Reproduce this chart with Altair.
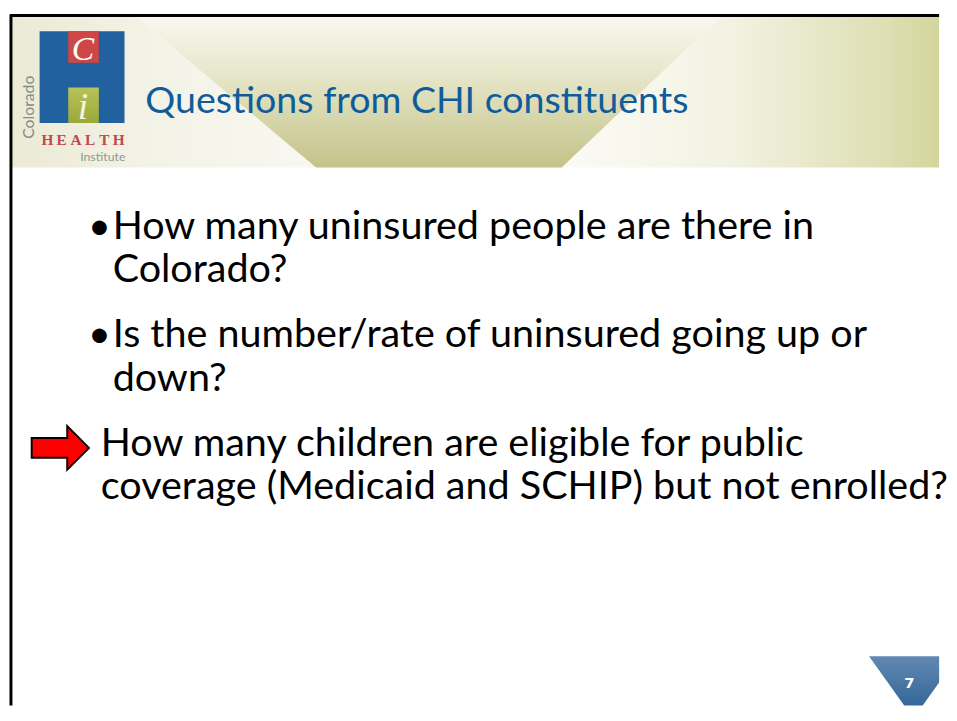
import altair as alt
import pandas as pd

# ---------------- content ----------------
title_text = "Questions from CHI constituents"
bullet_lines = [
    "How many uninsured people are there in",
    "Colorado?",
    "Is the number/rate of uninsured going up or",
    "down?",
    "How many children are eligible for public",
    "coverage (Medicaid and SCHIP) but not enrolled?",
]
line_item = [0, 0, 1, 1, 2, 2]
line_sub = [0, 1, 0, 1, 0, 1]
item_marker = ["bullet", "bullet", "arrow"]
page_number = "7"
logo_letters = ["C", "i"]
logo_word = "HEALTH"
logo_sub = "Institute"
logo_side = "Colorado"

# ---------------- layout (page pixels) ----------------
X0, Y0, W, H = 8, 8, 941, 700
FONT = "Lato"
BODY_SIZE = 40
TITLE_SIZE = 38
FIRST_BASE, ITEM_GAP, LINE_GAP = 235, 110, 44
TEXT_X = {"bullet": 112, "arrow": 100}
BULLET_X = 87

xs = alt.Scale(domain=[X0, X0 + W], nice=False, zero=False)
ys = alt.Scale(domain=[Y0, Y0 + H], nice=False, zero=False, reverse=True)


def X(f="x"):
    return alt.X(f"{f}:Q", scale=xs, axis=None)


def Y(f="y"):
    return alt.Y(f"{f}:Q", scale=ys, axis=None)


def grad(stops, horizontal=False):
    return alt.LinearGradient(
        gradient="linear",
        stops=[alt.GradientStop(offset=o, color=c) for o, c in stops],
        x1=0, y1=0, x2=1 if horizontal else 0, y2=0 if horizontal else 1,
    )


def area(xv, yv, y2v, fill, **kw):
    df = pd.DataFrame({"x": xv, "y": yv, "y2": y2v})
    return alt.Chart(df).mark_area(orient="vertical", color=fill, clip=True, **kw).encode(
        x=X(), y=Y(), y2=alt.Y2("y2:Q"))


def rect(x, x2, y, y2, fill):
    df = pd.DataFrame({"x": [x], "x2": [x2], "y": [y], "y2": [y2]})
    return alt.Chart(df).mark_rect(color=fill).encode(
        x=X(), x2=alt.X2("x2:Q"), y=Y(), y2=alt.Y2("y2:Q"))


def text(xv, yv, tv, **kw):
    df = pd.DataFrame({"x": xv, "y": yv, "t": tv})
    return alt.Chart(df).mark_text(**kw).encode(x=X(), y=Y(), text="t:N")


layers = []

# header background
HB = 163
RIGHT = X0 + W
layers.append(area([X0, 133, 318], [Y0, Y0, HB], [HB, HB, HB],
                   grad([(0, "#ebead5"), (0.5, "#f4f3e8"), (1, "#f8f8f1")], True)))
layers.append(area([133, 318, 567, 730], [Y0] * 4, [Y0, HB, HB, Y0],
                   grad([(0, "#f8f8f0"), (0.35, "#e9e9cf"), (1, "#c4c389")])))
layers.append(area([567, 730, RIGHT], [HB, Y0, Y0], [HB, HB, HB],
                   grad([(0, "#fbfbf6"), (0.45, "#f2f2e2"), (0.85, "#dedfb4"), (1, "#d3d69b")], True)))

# logo
layers.append(rect(38, 124, 25, 118, "#22619f"))
layers.append(rect(67, 98, 25, 57, "#cf4744"))
layers.append(rect(67, 98, 82, 118, grad([(0, "#b8c25a"), (1, "#98a93a")])))
layers.append(text([82], [54], [logo_letters[0]], font="Liberation Serif", fontSize=34,
                   fontStyle="italic", color="white", align="center", baseline="alphabetic"))
layers.append(text([82], [114], [logo_letters[1]], font="Liberation Serif", fontSize=38,
                   fontStyle="italic", color="#f4f4e0", align="center", baseline="alphabetic"))
layers.append(text([46 + 14.4 * k for k in range(len(logo_word))], [140] * len(logo_word),
                   list(logo_word), font="Liberation Serif", fontSize=15.5, fontWeight="bold",
                   color="#c24850", align="center", baseline="alphabetic"))
layers.append(text([125], [156], [logo_sub], font=FONT, fontSize=12.5, color="#8c9c86",
                   align="right", baseline="alphabetic"))
layers.append(text([27], [102], [logo_side], font=FONT, fontSize=16, color="#7f8e8a",
                   align="center", baseline="middle", angle=270))

# title
layers.append(text([145], [108], [title_text], font=FONT, fontSize=TITLE_SIZE,
                   color="#0f5c9b", align="left", baseline="alphabetic"))

# body text
ys_lines = [FIRST_BASE + ITEM_GAP * i + LINE_GAP * s for i, s in zip(line_item, line_sub)]
xs_lines = [TEXT_X[item_marker[i]] for i in line_item]
layers.append(text(xs_lines, ys_lines, bullet_lines, font=FONT, fontSize=BODY_SIZE,
                   color="black", align="left", baseline="alphabetic"))
bul_y = [FIRST_BASE + ITEM_GAP * i for i, m in enumerate(item_marker) if m == "bullet"]
layers.append(text([BULLET_X] * len(bul_y), bul_y, ["\u2022"] * len(bul_y), font=FONT,
                   fontSize=BODY_SIZE, color="black", align="left", baseline="alphabetic"))

# red arrow marker
ai = item_marker.index("arrow")
acy = FIRST_BASE + ITEM_GAP * ai - 8
layers.append(area([30, 66, 66.01, 88], [acy - 10, acy - 10, acy - 22, acy],
                   [acy + 10, acy + 10, acy + 22, acy], "#ff0000",
                   stroke="black", strokeWidth=2, strokeJoin="miter"))

# page number triangle
layers.append(area([878, 923, 968], [658, 658, 658], [658, 721, 658],
                   grad([(0, "#6189b2"), (1, "#2a5f92")])))
layers.append(text([919], [690], [page_number], font="DejaVu Sans", fontSize=15,
                   fontWeight="bold", color="white", align="center", baseline="alphabetic"))

# slide border
bd = pd.DataFrame({"x": [X0, 9], "x2": [RIGHT, 9], "y": [9, Y0], "y2": [9, Y0 + H]})
layers.append(alt.Chart(bd).mark_rule(color="black", strokeWidth=3).encode(
    x=X(), x2=alt.X2("x2:Q"), y=Y(), y2=alt.Y2("y2:Q")))

chart = alt.layer(*layers).properties(width=W, height=H, padding=0).configure_view(stroke=None)
chart.save("out.html", embed_options={"renderer": "svg", "actions": False})
